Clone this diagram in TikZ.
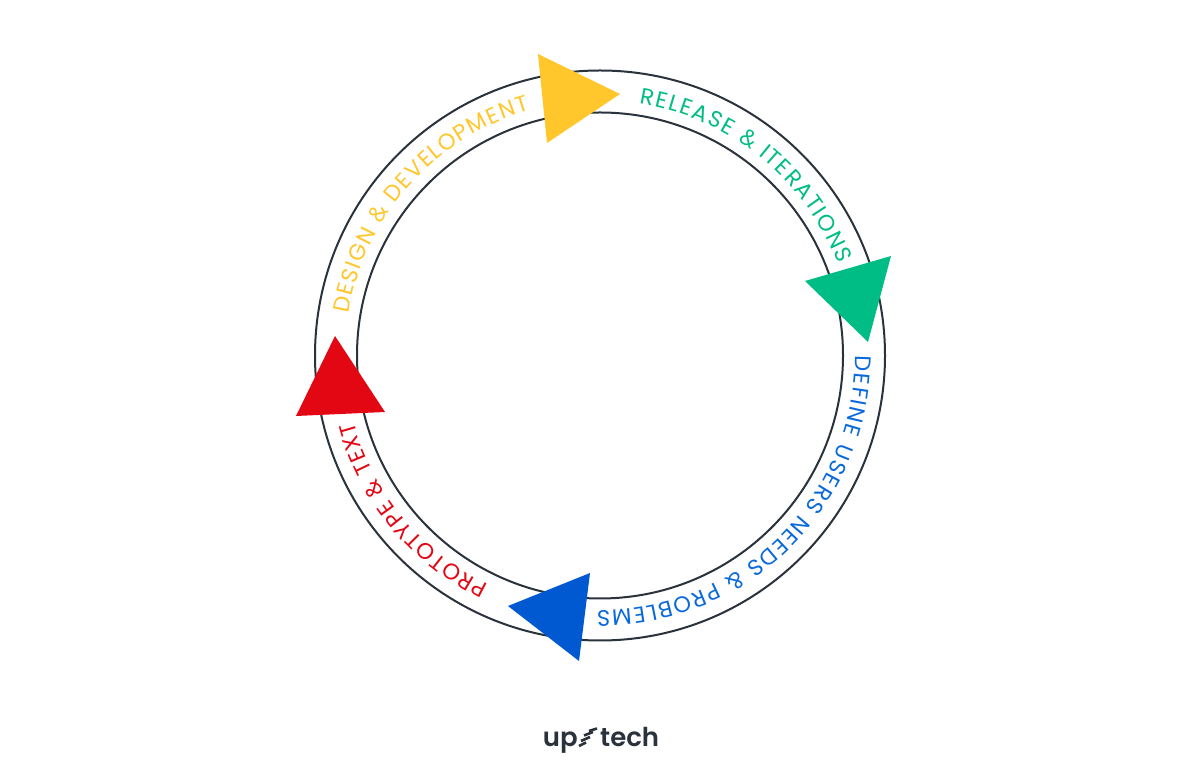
\documentclass[tikz,border=0pt]{standalone}
\usepackage{fontspec}
\usetikzlibrary{decorations.text}
\newfontfamily\ringfont{Poppins}
\newfontfamily\ampfont{Open Sans}
\newfontfamily\logofont{Poppins SemiBold}
\definecolor{ringc}{HTML}{2A323C}
\definecolor{yel}{HTML}{FFC72C}
\definecolor{grn}{HTML}{00BD85}
\definecolor{blu}{HTML}{0059D1}
\definecolor{blutext}{HTML}{0A6ADB}
\definecolor{redc}{HTML}{E30613}
\tikzset{x=1pt,y=1pt,
  ring/.style={draw=ringc,line width=2pt},
  logotext/.style={text=ringc,font=\logofont\fontsize{26}{26}\selectfont,inner sep=0pt},
  logobar/.style={draw=ringc,line width=2.6pt}}
\newcommand{\ringtext}[4]{% color, start angle, end angle, text
  \path[decorate,decoration={text along path,text align=fit to path,
    text={|\ringfont\fontsize{22.5}{22.5}\selectfont\color{#1}|#4}}]
    (600,418.5)++(#2:255) arc[start angle=#2,end angle=#3,radius=255];}
\begin{document}
\begin{tikzpicture}
\useasboundingbox (0,0) rectangle (1200,774);
\fill[white] (0,0) rectangle (1200,774);
\coordinate (c) at (600,418.5);
\draw[ring] (c) circle[radius=285];
\draw[ring] (c) circle[radius=243];
\ringtext{grn}{81}{21}{RELEASE {\ampfont\&} ITERATIONS}
\ringtext{blutext}{0}{-90.7}{DEFINE USERS NEEDS {\ampfont\&} PROBLEMS}
\ringtext{redc}{-116}{-165}{PROTOTYPE {\ampfont\&} TEXT}
\ringtext{yel}{170.5}{106}{DESIGN {\ampfont\&} DEVELOPMENT}
\fill[yel] (538,720) -- (620,680) -- (547,631) -- cycle;
\fill[grn] (891,518) -- (868,432) -- (805,493) -- cycle;
\fill[blu] (590,201) -- (579,113) -- (508,168) -- cycle;
\fill[redc] (335,438) -- (385,362) -- (296,358) -- cycle;
\node[logotext,anchor=base east] (up) at (578,27) {up};
\node[logotext,anchor=base west] (tech) at (600,27) {tech};
\draw[logobar] (579,28) -- (586,31.5);
\draw[logobar] (581,33) -- (590,37);
\draw[logobar] (584,38.5) -- (593,42);
\draw[logobar] (589,43) -- (597,45.5);
\end{tikzpicture}
\end{document}
